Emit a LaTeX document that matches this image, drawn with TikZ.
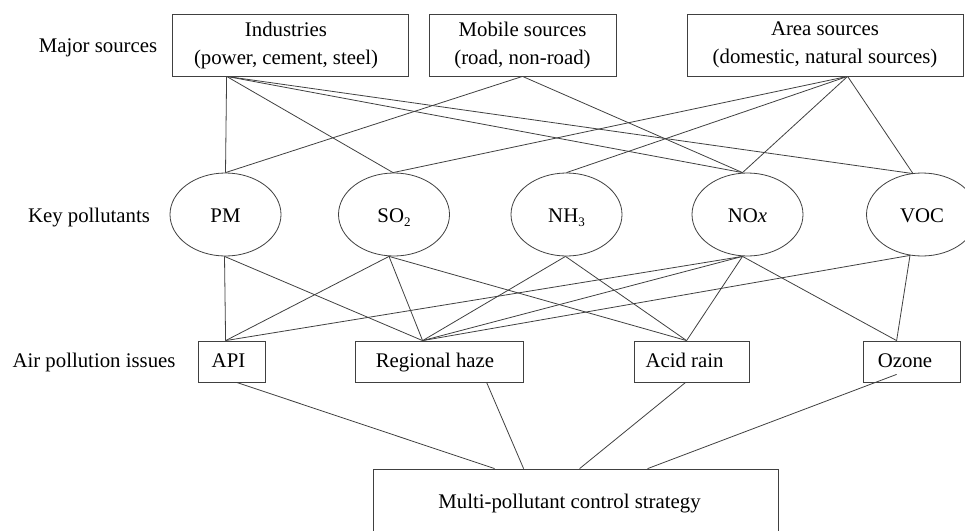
\documentclass[tikz,border=0pt]{standalone}
\usepackage{fontspec}
\setmainfont{Liberation Serif}
\usetikzlibrary{shapes.geometric}
\newcommand{\lowsub}[1]{\raisebox{-0.45ex}{\fontsize{13}{13}\selectfont #1}}
\begin{document}
\begin{tikzpicture}[x=1pt,y=-1pt,
  every node/.style={font=\fontsize{20.8}{28}\selectfont, text=black},
  box/.style={draw=black!75, line width=0.8pt, rectangle, inner sep=0pt, align=center},
  issue/.style={box, minimum height=41pt, text height=12pt, text depth=0pt},
  ell/.style={draw=black!75, line width=0.8pt, ellipse, inner sep=0pt, minimum width=111pt, minimum height=83pt, text height=15pt, text depth=0pt},
  conn/.style={draw=black!75, line width=0.8pt},
  lab/.style={inner sep=0pt, anchor=base}]
\clip (0,0) rectangle (965,530);
% left labels
\node[lab] (l1) at (98,52) {Major sources};
\node[lab] (l2) at (89,222) {Key pollutants};
\node[lab] (l3) at (94,367) {Air pollution issues};
% top boxes
\node[box, minimum width=236pt, minimum height=62pt] (ind) at (290,45) {\hspace*{-8pt}Industries\\\hspace*{-8pt}(power, cement, steel)};
\node[box, minimum width=187pt, minimum height=62pt] (mob) at (522.5,45) {Mobile sources\\(road, non-road)};
\node[box, minimum width=276pt, minimum height=62pt] (area) at (825,45) {Area sources\\(domestic, natural sources)};
% ellipses
\node[ell] (pm) at (225.5,214.5) {PM};
\node[ell] (so) at (394,214.5) {SO\lowsub{2}};
\node[ell] (nh) at (566.5,214.5) {NH\lowsub{3}};
\node[ell] (no) at (747.5,214.5) {NO\textit{x}};
\node[ell] (voc) at (922,214.5) {VOC};
% issue boxes
\node[issue, minimum width=67pt] (api) at (231.5,361.5) {\hspace*{-6pt}API};
\node[issue, minimum width=168pt] (rh) at (439,361.5) {\hspace*{-8pt}Regional haze};
\node[issue, minimum width=115pt] (ar) at (691.5,361.5) {\hspace*{-14pt}Acid rain};
\node[issue, minimum width=97pt] (oz) at (911.5,361.5) {\hspace*{-13pt}Ozone};
\node[box, minimum width=405pt, minimum height=68pt, text height=10pt, text depth=0pt] (mp) at (575.5,503) {\hspace*{-12pt}Multi-pollutant control strategy};
% attachment points
\coordinate (indB) at ([xshift=55pt]ind.south west);
\coordinate (mobB) at (mob.south);
\coordinate (areaB) at ([xshift=161pt]area.south west);
\coordinate (pmT) at (pm.north);
\coordinate (soT) at ([xshift=-1pt]so.north);
\coordinate (nhT) at (nh.north);
\coordinate (noT) at ([xshift=-5pt]no.north);
\coordinate (vocT) at ([xshift=-9pt,yshift=-1pt]voc.north);
\coordinate (pmB) at ([xshift=-1pt]pm.south);
\coordinate (soB) at ([xshift=-5pt]so.south);
\coordinate (nhB) at ([xshift=-1pt]nh.south);
\coordinate (noB) at ([xshift=-5pt]no.south);
\coordinate (vocB) at ([xshift=-12pt,yshift=1pt]voc.south);
\coordinate (apiT) at ([xshift=28pt]api.north west);
\coordinate (rhT) at ([xshift=68pt]rh.north west);
\coordinate (arT) at ([xshift=53pt]ar.north west);
\coordinate (ozT) at ([xshift=34pt]oz.north west);
\coordinate (apiB) at ([xshift=39pt]api.south west);
\coordinate (rhB) at ([xshift=132pt]rh.south west);
\coordinate (arB) at ([xshift=52pt]ar.south west);
\coordinate (ozB) at ([xshift=34pt,yshift=8pt]oz.south west);
\coordinate (mp1) at ([xshift=122pt]mp.north west);
\coordinate (mp2) at ([xshift=151pt]mp.north west);
\coordinate (mp3) at ([xshift=207pt]mp.north west);
\coordinate (mp4) at ([xshift=275pt]mp.north west);
% sources -> pollutants
\draw[conn] (indB) -- (pmT);
\draw[conn] (indB) -- (soT);
\draw[conn] (indB) -- (noT);
\draw[conn] (indB) -- (vocT);
\draw[conn] (mobB) -- (pmT);
\draw[conn] (mobB) -- (noT);
\draw[conn] (areaB) -- (soT);
\draw[conn] (areaB) -- (nhT);
\draw[conn] (areaB) -- (noT);
\draw[conn] (areaB) -- (vocT);
% pollutants -> issues
\draw[conn] (pmB) -- (apiT);
\draw[conn] (pmB) -- (rhT);
\draw[conn] (soB) -- (apiT);
\draw[conn] (soB) -- (rhT);
\draw[conn] (soB) -- (arT);
\draw[conn] (nhB) -- (rhT);
\draw[conn] (nhB) -- (arT);
\draw[conn] (noB) -- (apiT);
\draw[conn] (noB) -- (rhT);
\draw[conn] (noB) -- (arT);
\draw[conn] (noB) -- (ozT);
\draw[conn] (vocB) -- (rhT);
\draw[conn] (vocB) -- (ozT);
% issues -> strategy
\draw[conn] (apiB) -- (mp1);
\draw[conn] (rhB) -- (mp2);
\draw[conn] (arB) -- (mp3);
\draw[conn] (ozB) -- (mp4);
\end{tikzpicture}
\end{document}
